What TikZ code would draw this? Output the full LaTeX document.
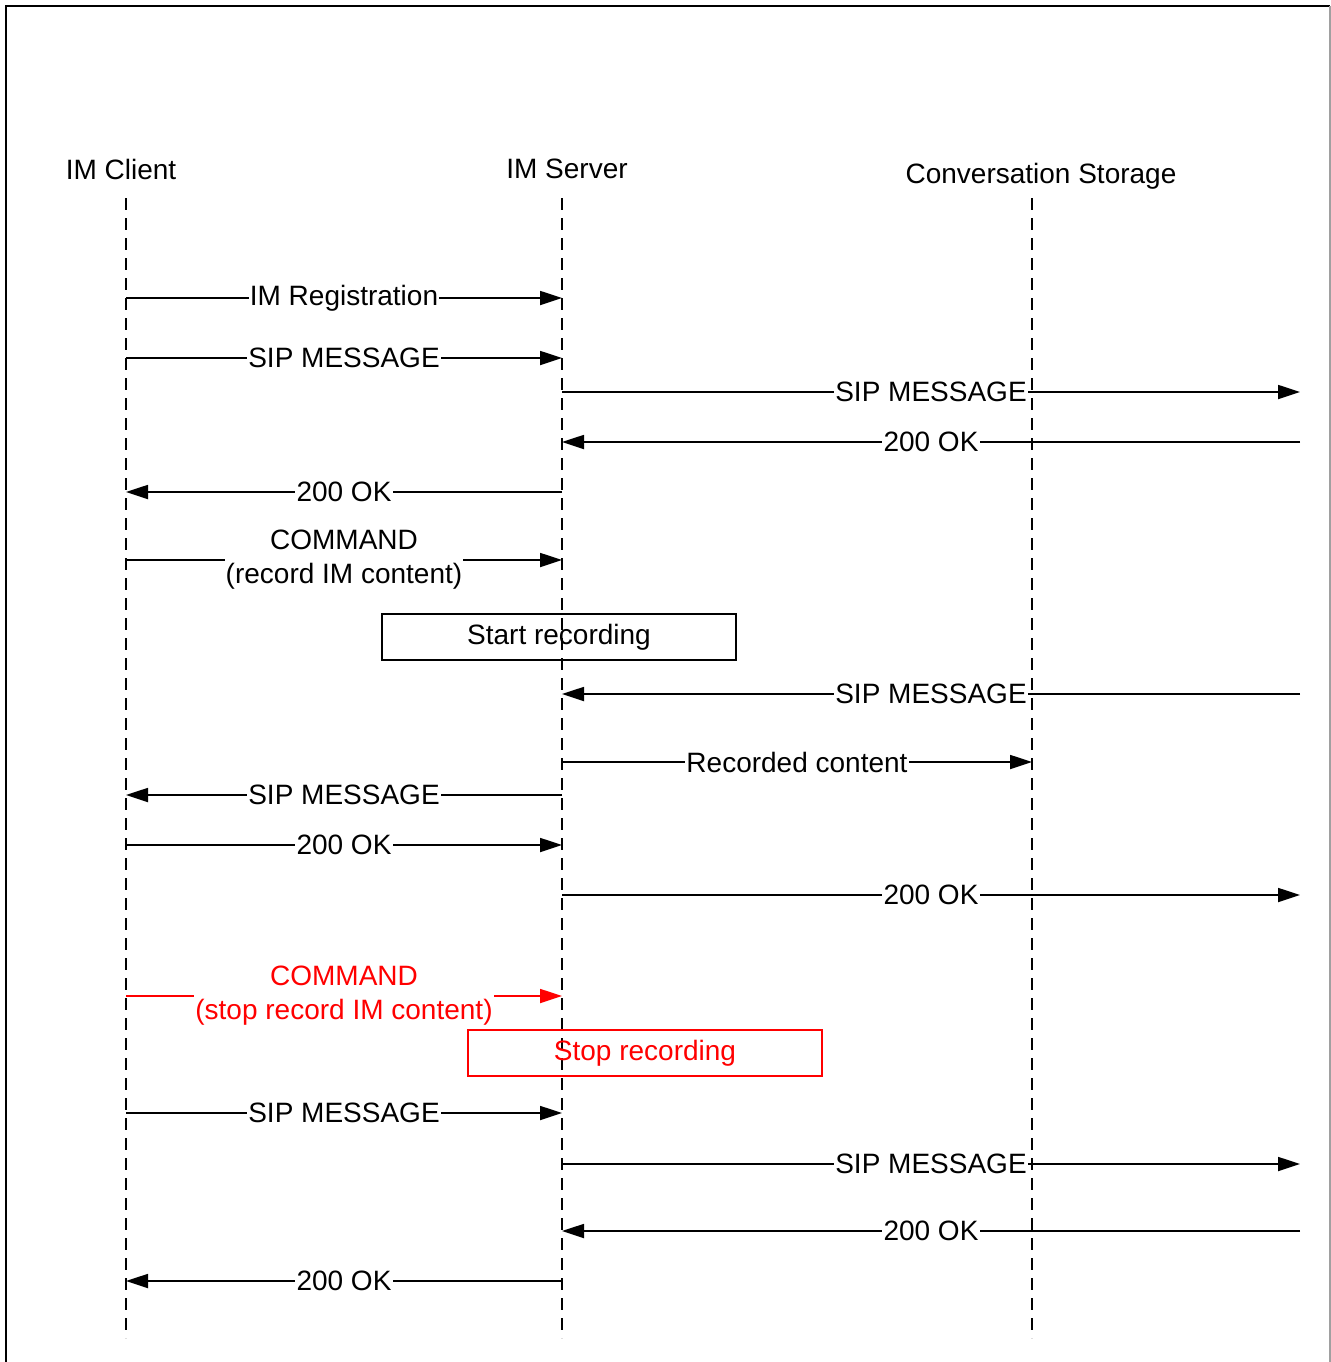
\documentclass[tikz,border=0pt]{standalone}
\usepackage{fontspec}
\setmainfont{Liberation Sans}
\usetikzlibrary{arrows.meta}
\definecolor{stopRed}{RGB}{255,0,0}
\definecolor{frameGray}{RGB}{160,160,160}
\tikzset{
  actor/.style={font=\fontsize{14}{17}\selectfont, inner sep=0pt},
  lifeline/.style={line width=0.9pt, dash pattern=on 6pt off 4pt},
  arrow/.style={-{Triangle[length=11pt,width=7pt]}, line width=0.9pt},
  msg/.style={fill=white, inner sep=0.6pt, align=center, font=\fontsize{14}{17}\selectfont},
  action/.style={draw, line width=0.7pt, minimum width=177pt, minimum height=23pt, inner sep=0pt, font=\fontsize{14}{17}\selectfont},
  frame/.style={line width=0.7pt}
}
\begin{document}
\begin{tikzpicture}[x=0.5pt,y=-0.5pt]
  \useasboundingbox (0,0) rectangle (1331,1362);
  \draw[frame] (6,1362) -- (6,6) -- (1330,6);
  \draw[frame, frameGray] (1330,6) -- (1330,1362);

  \node[actor] (client) at (121,169) {IM Client};
  \node[actor] (server) at (567,169) {IM Server};
  \node[actor] (storage) at (1041,176) {Conversation Storage};

  \coordinate (cl) at (126,198);
  \coordinate (sv) at (562,198);
  \coordinate (st) at (1032,198);
  \coordinate (ext) at (1300,198);

  \draw[lifeline] (cl) -- ++(0,1140);
  \draw[lifeline] (sv) -- ++(0,1140);
  \draw[lifeline] (st) -- ++(0,1140);

  \draw[arrow] (cl |- 0,298) -- node[msg]{IM Registration} (sv |- 0,298);
  \draw[arrow] (cl |- 0,358) -- node[msg]{SIP MESSAGE} (sv |- 0,358);
  \draw[arrow] (sv |- 0,392) -- node[msg]{SIP MESSAGE} (ext |- 0,392);
  \draw[arrow] (ext |- 0,442) -- node[msg]{200 OK} (sv |- 0,442);
  \draw[arrow] (sv |- 0,492) -- node[msg]{200 OK} (cl |- 0,492);
  \draw[arrow] (cl |- 0,560) -- node[msg]{COMMAND\\(record IM content)} (sv |- 0,560);

  \node[action] (start) at (559,637) {Start recording};

  \draw[arrow] (ext |- 0,694) -- node[msg]{SIP MESSAGE} (sv |- 0,694);
  \draw[arrow] (sv |- 0,762) -- node[msg]{Recorded content} (st |- 0,762);
  \draw[arrow] (sv |- 0,795) -- node[msg]{SIP MESSAGE} (cl |- 0,795);
  \draw[arrow] (cl |- 0,845) -- node[msg]{200 OK} (sv |- 0,845);
  \draw[arrow] (sv |- 0,895) -- node[msg]{200 OK} (ext |- 0,895);

  \draw[arrow, stopRed] (cl |- 0,996) -- node[msg, text=stopRed]{COMMAND\\(stop record IM content)} (sv |- 0,996);

  \node[action, draw=stopRed, text=stopRed] (stop) at (645,1053) {Stop recording};

  \draw[arrow] (cl |- 0,1113) -- node[msg]{SIP MESSAGE} (sv |- 0,1113);
  \draw[arrow] (sv |- 0,1164) -- node[msg]{SIP MESSAGE} (ext |- 0,1164);
  \draw[arrow] (ext |- 0,1231) -- node[msg]{200 OK} (sv |- 0,1231);
  \draw[arrow] (sv |- 0,1281) -- node[msg]{200 OK} (cl |- 0,1281);
\end{tikzpicture}
\end{document}
